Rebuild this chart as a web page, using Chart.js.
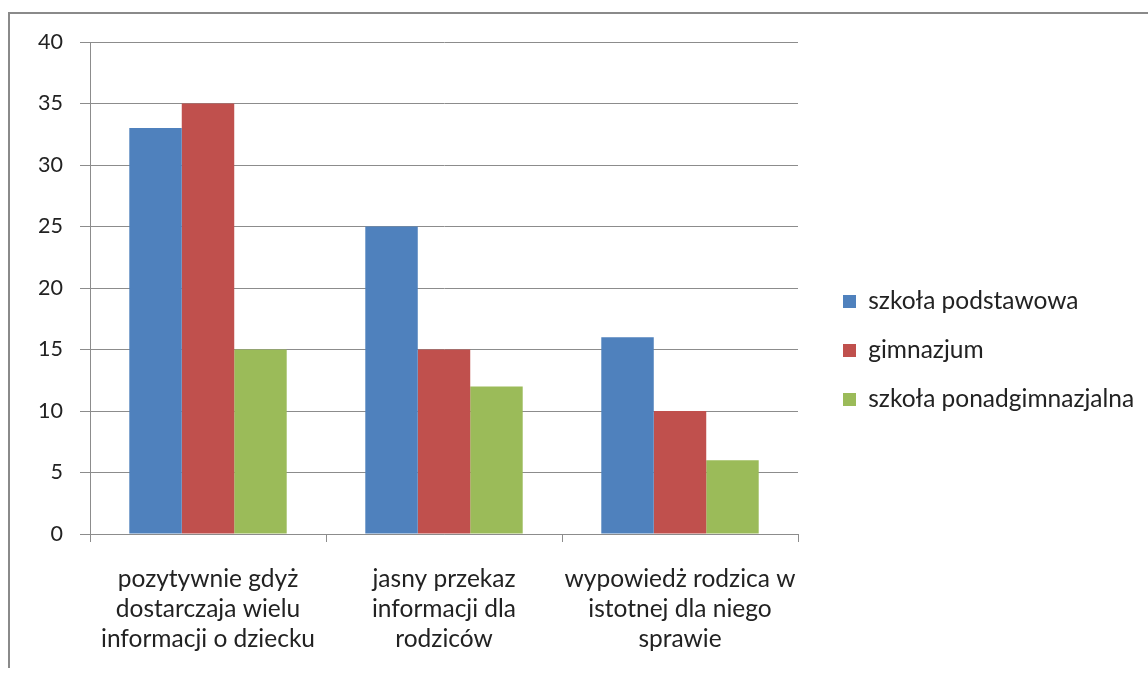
<!DOCTYPE html>
<html>
<head>
<meta charset="utf-8">
<script src="https://cdn.jsdelivr.net/npm/chart.js@4.4.0/dist/chart.umd.min.js"></script>
<style>
  html, body { margin: 0; padding: 0; background: #ffffff; overflow: hidden; }
  #wrap { position: relative; width: 1148px; height: 677px; }
  #frame { position: absolute; left: 8px; top: 12px; width: 1200px; height: 656px;
           border-left: 2px solid #8a8a8a; border-top: 2px solid #8a8a8a; box-sizing: border-box; }
  canvas { position: absolute; left: 0; top: 0; }
</style>
</head>
<body>
<div id="wrap">
  <div id="frame"></div>
  <canvas id="c" width="1148" height="677"></canvas>
</div>
<script>
const categories = [
  ["pozytywnie gdyż", "dostarczaja wielu", "informacji o dziecku"],
  ["jasny przekaz", "informacji dla", "rodziców"],
  ["wypowiedż rodzica w", "istotnej dla niego", "sprawie"]
];
const seriesNames = ["szkoła podstawowa", "gimnazjum", "szkoła ponadgimnazjalna"];
const szkolaPodstawowa = [33, 25, 16];
const gimnazjum = [35, 15, 10];
const szkolaPonadgimnazjalna = [15, 12, 6];
const seriesColors = ["#4F81BD", "#C0504D", "#9BBB59"];
const yTicksMin = 0, yTicksMax = 40, yTicksStep = 5;

const FONT = "Lato, 'Open Sans', sans-serif";
const GRID = "#8c8c8c";
const LABEL_SIZE = 24.5;

const legendFix = {
  id: 'legendFix',
  afterInit(chart) {
    const lg = chart.legend;
    if (lg && !lg._wrapped) {
      const orig = lg.fit.bind(lg);
      lg.fit = function () { orig(); this.width = 350; };
      lg._wrapped = true;
    }
  },
  afterLayout(chart) {
    const lg = chart.legend;
    lg.left = 818.5; lg.right = 1148;
    lg.top -= 9; lg.bottom -= 9;
  }
};

new Chart(document.getElementById('c'), {
  type: 'bar',
  data: {
    labels: categories,
    datasets: [
      { label: seriesNames[0], data: szkolaPodstawowa, backgroundColor: seriesColors[0] },
      { label: seriesNames[1], data: gimnazjum, backgroundColor: seriesColors[1] },
      { label: seriesNames[2], data: szkolaPonadgimnazjalna, backgroundColor: seriesColors[2] }
    ]
  },
  options: {
    responsive: false,
    animation: false,
    devicePixelRatio: 1,
    layout: { padding: { left: 0, right: 0, top: 42, bottom: 0 } },
    datasets: { bar: { categoryPercentage: 0.667, barPercentage: 1.0 } },
    plugins: {
      legend: {
        position: 'right',
        align: 'center',
        labels: {
          boxWidth: 13, boxHeight: 13, padding: 24.5,
          color: '#222', font: { family: FONT, size: LABEL_SIZE }
        }
      },
      tooltip: { enabled: false }
    },
    scales: {
      x: {
        offset: true,
        grid: { display: true, offset: true, drawOnChartArea: false, drawTicks: true,
                tickLength: 8, color: GRID },
        border: { display: true, color: GRID, width: 1 },
        ticks: { color: '#222', padding: 22, maxRotation: 0, autoSkip: false,
                 font: { family: FONT, size: LABEL_SIZE, lineHeight: 30 / LABEL_SIZE } },
        afterFit(scale) { scale.height = 143; }
      },
      y: {
        min: yTicksMin, max: yTicksMax,
        grid: { color: GRID, tickLength: 10, drawTicks: true },
        border: { display: true, color: GRID, width: 1 },
        ticks: { stepSize: yTicksStep, color: '#222', padding: 17,
                 font: { family: FONT, size: 21.5 } },
        afterFit(scale) { scale.width = 90; }
      }
    }
  },
  plugins: [legendFix]
});
</script>
</body>
</html>
